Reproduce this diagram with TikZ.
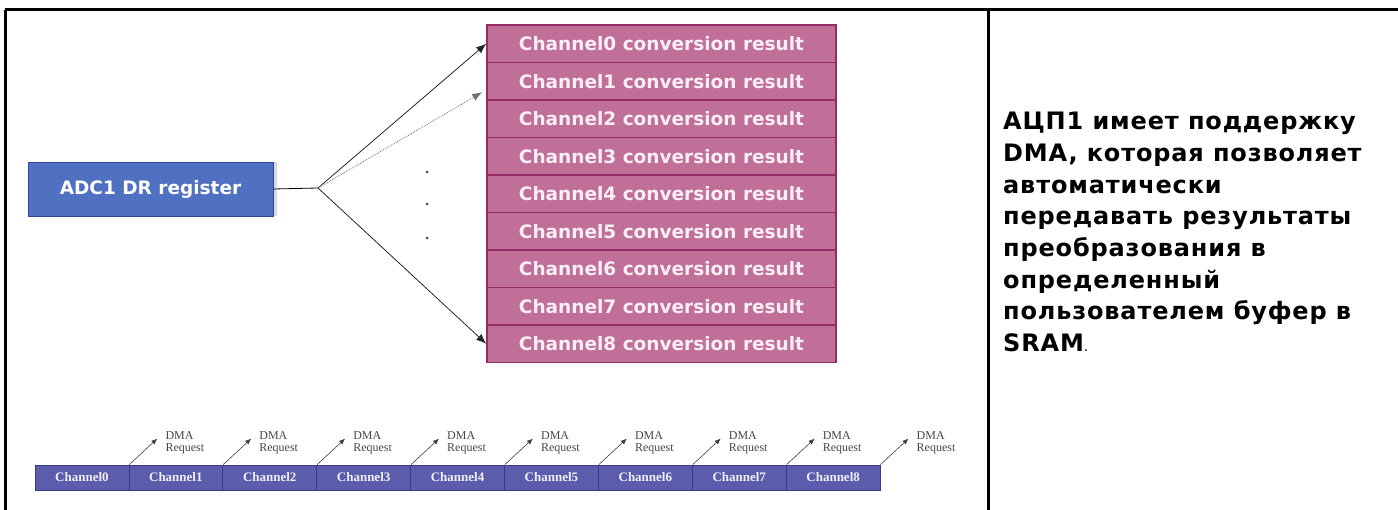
\documentclass[tikz,border=0pt]{standalone}
\usepackage{fontspec}
\setmainfont{DejaVu Sans}
\newfontfamily\reqfont{Liberation Serif}
\usetikzlibrary{positioning,arrows.meta,calc,shadows}
\definecolor{adcBlue}{RGB}{80,112,194}
\definecolor{adcEdge}{RGB}{50,70,150}
\definecolor{resPink}{RGB}{192,112,152}
\definecolor{resEdge}{RGB}{148,42,102}
\definecolor{resText}{RGB}{250,238,245}
\definecolor{barBlue}{RGB}{92,92,172}
\definecolor{barEdge}{RGB}{58,58,128}
\definecolor{reqGray}{RGB}{70,70,70}
\tikzset{
    base/.style={align=center, inner sep=0pt},
    register/.style={base, rectangle, draw=adcEdge, thick, fill=adcBlue, text=white,
                     minimum width=245pt, minimum height=54pt,
                     font=\fontsize{18.5}{22}\selectfont\bfseries,
                     drop shadow={opacity=0.3, shadow xshift=4pt, shadow yshift=0pt, fill=gray}},
    result/.style={base, rectangle, draw=resEdge, line width=1.6pt, fill=resPink, text=resText,
                   minimum width=349pt, minimum height=37.5pt,
                   font=\fontsize{18.5}{22}\selectfont\bfseries},
    cell/.style={base, rectangle, draw=barEdge, thick, fill=barBlue, text=white!90!barBlue,
                 minimum width=93.9pt, minimum height=25pt,
                 font=\reqfont\fontsize{13}{15}\selectfont\bfseries},
    request/.style={base, align=left, text=reqGray, font=\reqfont\fontsize{12}{12}\selectfont},
    dot/.style={circle, fill=black!70, inner sep=0pt, minimum size=3pt},
    flow/.style={-{Latex[length=10pt,width=8pt]}, thick, color=black!85},
    dimflow/.style={flow, densely dotted, color=black!55},
    reqflow/.style={-{Latex[length=6pt,width=5pt]}, semithick, color=black!75},
    note/.style={align=left, inner sep=0pt,
                 font=\fontsize{24}{31.7}\selectfont\bfseries\addfontfeature{LetterSpace=3.5}}
}

\begin{document}
\begin{tikzpicture}[x=1pt, y=-1pt]
  \useasboundingbox (0,0) rectangle (1398,510);
  % table lines
  \draw[line width=3pt] (5,10) -- (1398,10);
  \draw[line width=3pt] (5,10) -- (5,510);
  \draw[line width=3pt] (988,10) -- (988,510);

  % register and results
  \node[register] (adc) at (150.5,189) {ADC1 DR register};
  \foreach \i in {0,...,8}
    \node[result] (res\i) at (661.5,{43.75+37.5*\i}) {Channel\i\ conversion result};

  \coordinate (fork) at (318,188);
  \draw[thick] (adc.east) -- (fork);
  \draw[flow] (fork) -- (res0.west);
  \draw[dimflow] (fork) -- ($(res1.west)+(-4,11)$);
  \draw[flow] (fork) -- (res8.west);

  \node[dot] (dot1) at (427,172) {};
  \node[dot] (dot2) at (427,204) {};
  \node[dot] (dot3) at (427,238) {};

  % channel sequence with DMA requests
  \foreach \i in {0,...,8} {
    \node[cell] (ch\i) at ({81.95+93.9*\i},477.5) {Channel\i};
    \coordinate (tip\i) at ($(ch\i.north east)+(28,-26)$);
    \draw[reqflow] (ch\i.north east) -- (tip\i);
    \node[request, anchor=west] (req\i) at ($(ch\i.north east)+(36,-22)$) {DMA\\Request};
  }

  % description
  \node[note, anchor=north west] (note) at (1003,112)
    {АЦП1 имеет поддержку\\
     DMA, которая позволяет\\
     автоматически\\
     передавать результаты\\
     преобразования в\\
     определенный\\
     пользователем буфер в\\
     SRAM{\mdseries\fontsize{14}{17}\selectfont.}};
\end{tikzpicture}
\end{document}
